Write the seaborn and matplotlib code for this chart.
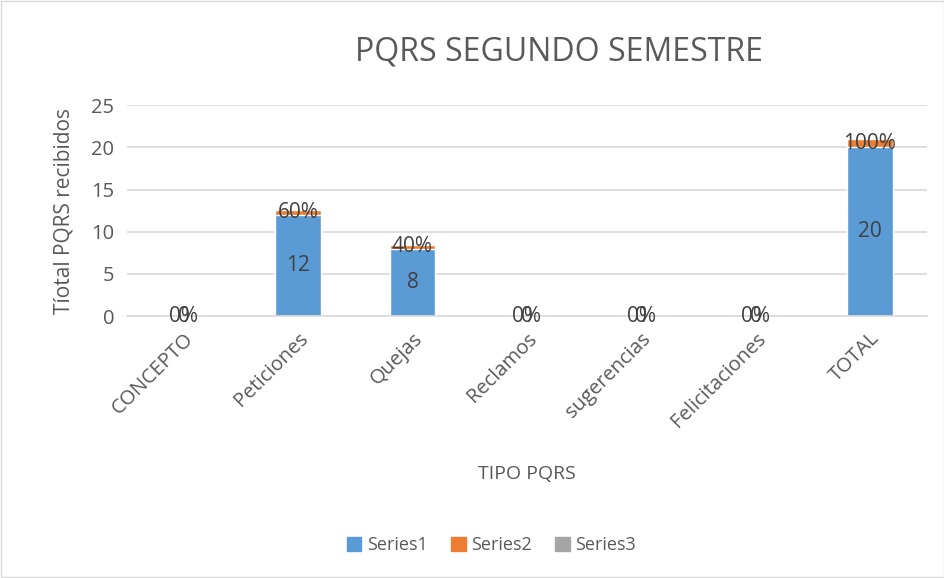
import seaborn as sns
import pandas as pd
import matplotlib.pyplot as plt
from matplotlib.patches import Patch

categorias = ['CONCEPTO', 'Peticiones', 'Quejas', 'Reclamos', 'sugerencias', 'Felicitaciones', 'TOTAL']
series1 = [0, 12, 8, 0, 0, 0, 20]
series2 = [0, 0.6, 0.4, 0, 0, 0, 1.0]
series3 = [0, 0, 0, 0, 0, 0, 0]

df = pd.DataFrame({'tipo': categorias, 's1': series1, 's2': series2, 's3': series3})
df['s12'] = df['s1'] + df['s2']
df['s123'] = df['s12'] + df['s3']

sns.set_style('white')
plt.rcParams['font.family'] = ['Open Sans', 'DejaVu Sans']
gris = '#595959'

fig = plt.figure(figsize=(9.45, 5.78), dpi=100)
ax = fig.add_axes([0.134, 0.453, 0.847, 0.365])

c1, c2, c3 = '#5b9bd5', '#ed7d31', '#a5a5a5'
sns.barplot(data=df, x='tipo', y='s123', color=c3, width=0.4, saturation=1, ax=ax)
sns.barplot(data=df, x='tipo', y='s12', color=c2, width=0.4, saturation=1, ax=ax)
sns.barplot(data=df, x='tipo', y='s1', color=c1, width=0.4, saturation=1, ax=ax)

# etiquetas de datos
for i, (v1, v2) in enumerate(zip(series1, series2)):
    ax.text(i, v1 / 2, f'{v1:g}', ha='center', va='center', fontsize=15, color='#404040')
    ax.text(i, v1 + v2 / 2, f'{v2:.0%}', ha='center', va='center', fontsize=15, color='#404040')

ax.set_ylim(0, 25)
ax.set_yticks(range(0, 26, 5))
ax.yaxis.grid(True, color='#d9d9d9', linewidth=1.2)
ax.set_axisbelow(True)
for s in ['top', 'right', 'left']:
    ax.spines[s].set_visible(False)
ax.spines['bottom'].set_color('#d9d9d9')
ax.spines['bottom'].set_linewidth(1.2)
ax.tick_params(axis='both', length=0, labelsize=14.5, colors=gris, pad=9)
plt.setp(ax.get_xticklabels(), rotation=45, ha='right', rotation_mode='anchor')

ax.set_xlabel('TIPO PQRS', fontsize=14, color=gris, labelpad=24)
ax.set_ylabel('Tíotal PQRS recibidos', fontsize=15, color=gris, labelpad=12)
fig.text(0.592, 0.91, 'PQRS SEGUNDO SEMESTRE', ha='center', va='center', fontsize=23, color=gris)

handles = [Patch(color=c1, label='Series1'), Patch(color=c2, label='Series2'), Patch(color=c3, label='Series3')]
leg = fig.legend(handles=handles, loc='center', bbox_to_anchor=(0.52, 0.057), ncol=3, frameon=False,
                 fontsize=13, handlelength=0.8, handleheight=0.8, handletextpad=0.3, columnspacing=1.3)
for t in leg.get_texts():
    t.set_color(gris)

fig.patches.append(plt.Rectangle((0.001, 0.001), 0.998, 0.998, transform=fig.transFigure,
                                 fill=False, edgecolor='#d9d9d9', linewidth=1))

fig.savefig('out.png', dpi=100)
